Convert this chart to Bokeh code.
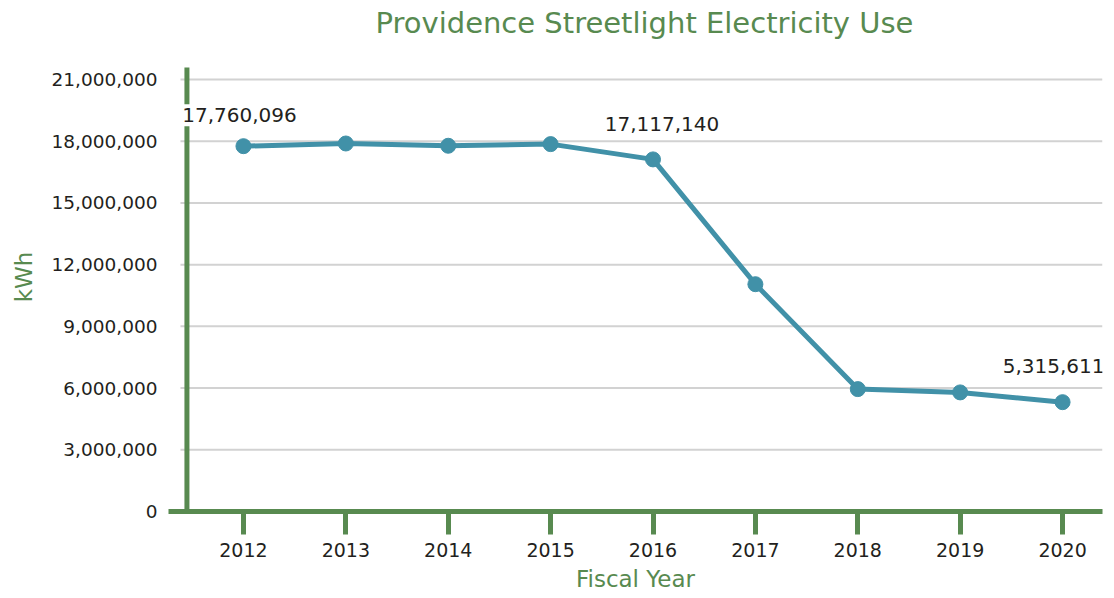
from bokeh.plotting import figure
from bokeh.models import FixedTicker, NumeralTickFormatter, Label, ColumnDataSource
from bokeh.embed import file_html
from bokeh.resources import INLINE

# ---- data ----
years = [2012, 2013, 2014, 2015, 2016, 2017, 2018, 2019, 2020]
kwh = [17760096, 17890000, 17780000, 17860000, 17117140, 11050000, 5950000, 5790000, 5315611]
x_tick_labels = ["2012", "2013", "2014", "2015", "2016", "2017", "2018", "2019", "2020"]
y_ticks = [0, 3000000, 6000000, 9000000, 12000000, 15000000, 18000000, 21000000]
labelled_years = [2012, 2016, 2020]
label_texts = ["17,760,096", "17,117,140", "5,315,611"]

# ---- style / layout ----
GREEN = "#588a50"
TEAL = "#4191a8"
DARK = "#231f20"
GRID = "#d2d2d2"
FONT = "DejaVu Sans"
X_START, X_END = 2011.268, 2020.39
Y_END = 22800000          # frame top (title sits above)
AXIS_TOP = 21580000       # top end of the green vertical axis bar
AXIS_X = 2011.448         # position of the green vertical axis bar
GRID_X0 = 2011.385        # grid lines start just left of the bar
label_offsets = [(-4, 31), (9, 35), (-9, 36)]

p = figure(width=1114, height=598, x_range=(X_START, X_END), y_range=(0, Y_END),
           output_backend="svg", toolbar_location=None,
           min_border_left=168, min_border_right=12, min_border_top=42, min_border_bottom=87)
p.outline_line_color = None
p.background_fill_color = "white"

# title
p.title.text = "Providence Streetlight Electricity Use"
p.title.align = "left"
p.title.offset = 207
p.title.text_font = FONT
p.title.text_font_size = "29px"
p.title.text_font_style = "normal"
p.title.text_color = GREEN
p.title.standoff = 6

# x axis
xa = p.xaxis[0]
xa.ticker = FixedTicker(ticks=years)
xa.major_label_overrides = {y: t for y, t in zip(years, x_tick_labels)}
xa.axis_line_color = GREEN
xa.axis_line_width = 5
xa.major_tick_line_color = GREEN
xa.major_tick_line_width = 5
xa.major_tick_out = 23
xa.major_tick_in = 0
xa.minor_tick_line_color = None
xa.major_label_text_font = FONT
xa.major_label_text_font_size = "19px"
xa.major_label_text_color = DARK
xa.major_label_standoff = 8
xa.axis_label = "Fiscal Year"
xa.axis_label_text_font = FONT
xa.axis_label_text_font_size = "23px"
xa.axis_label_text_font_style = "normal"
xa.axis_label_text_color = GREEN
xa.axis_label_standoff = 6

# y axis
ya = p.yaxis[0]
ya.ticker = FixedTicker(ticks=y_ticks)
ya.formatter = NumeralTickFormatter(format="0,0")
ya.axis_line_color = None
ya.major_tick_line_color = None
ya.minor_tick_line_color = None
ya.major_label_text_font = FONT
ya.major_label_text_font_size = "18.5px"
ya.major_label_text_color = DARK
ya.major_label_standoff = 5
ya.axis_label = "kWh"
ya.axis_label_text_font = FONT
ya.axis_label_text_font_size = "23px"
ya.axis_label_text_font_style = "normal"
ya.axis_label_text_color = GREEN
ya.axis_label_standoff = 12

# grid lines (drawn from the y tick list so they start just left of the bar)
p.xgrid.grid_line_color = None
p.ygrid.grid_line_color = None
p.segment(x0=[GRID_X0] * len(y_ticks), x1=[X_END] * len(y_ticks), y0=y_ticks, y1=y_ticks,
          line_color=GRID, line_width=2)

# green vertical axis bar
p.segment(x0=[AXIS_X], x1=[AXIS_X], y0=[0], y1=[AXIS_TOP], line_color=GREEN, line_width=5)

# data
src = ColumnDataSource(dict(x=years, y=kwh))
p.line("x", "y", source=src, line_color=TEAL, line_width=5)
p.scatter("x", "y", source=src, size=15, fill_color=TEAL, line_color=TEAL)

# value labels
for yr, txt, (dx, dy) in zip(labelled_years, label_texts, label_offsets):
    val = kwh[years.index(yr)]
    p.add_layout(Label(x=yr, y=val, text=txt, x_offset=dx, y_offset=dy,
                       text_align="center", text_baseline="middle",
                       text_font=FONT, text_font_size="20px", text_color=DARK,
                       background_fill_color="white", padding=4))

open("out.html", "w").write(file_html(p, INLINE))
